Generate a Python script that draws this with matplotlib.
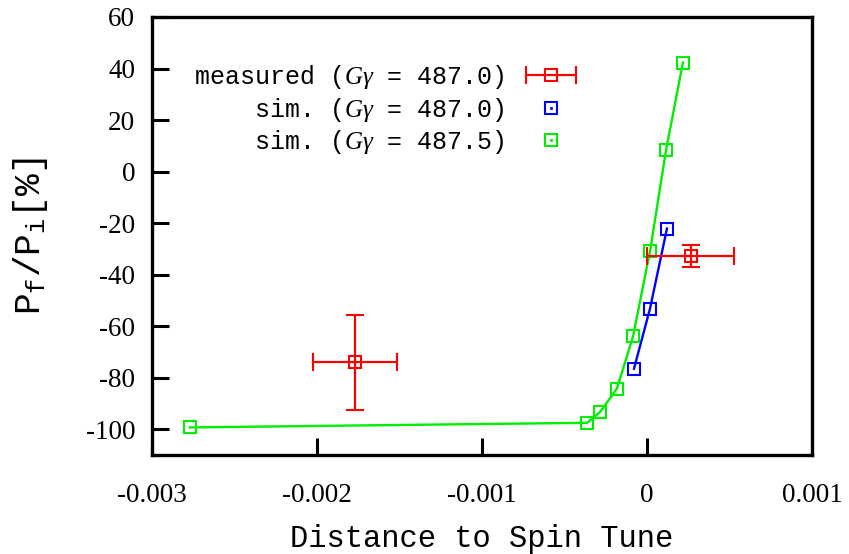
import numpy as np
import matplotlib
matplotlib.use("Agg")
import matplotlib.pyplot as plt
from matplotlib.lines import Line2D
from matplotlib.legend_handler import HandlerErrorbar, HandlerTuple

plt.rcParams["axes.unicode_minus"] = False
plt.rcParams["mathtext.fontset"] = "custom"
plt.rcParams["mathtext.rm"] = "Liberation Mono"
plt.rcParams["mathtext.tt"] = "Liberation Mono"
plt.rcParams["mathtext.it"] = "Liberation Serif:italic"

# measured polarisation ratio (G gamma = 487.0)
meas_x = [-0.00177, 0.000266]
meas_y = [-74.0, -32.6]
meas_xerr = [0.000257, 0.000263]
meas_yerr = [18.5, 4.3]

# simulation, G gamma = 487.0
sim0_x = [-0.0000787, 0.0000182, 0.000121]
sim0_y = [-76.5, -53.2, -22.1]

# simulation, G gamma = 487.5
sim5_x = [-0.00277, -0.000363, -0.000284, -0.000182, -0.0000847,
          0.0000182, 0.000115, 0.000218]
sim5_y = [-99.3, -97.5, -93.3, -84.2, -64.0, -31.0, 8.2, 42.3]

xticks = [-0.003, -0.002, -0.001, 0, 0.001]
yticks = [-100, -80, -60, -40, -20, 0, 20, 40, 60]

RED, BLUE, GREEN = "#ff0000", "#0000ff", "#00ee00"
MONO = "Liberation Mono"
SERIF = "Liberation Serif"
MS = 8.5

fig = plt.figure(figsize=(8.49, 5.54), dpi=100)
ax = fig.add_axes([152 / 849, 99 / 554, 660 / 849, 438 / 554])

ax.plot(sim5_x, sim5_y, color=GREEN, lw=1.7, zorder=2)
ax.plot(sim5_x, sim5_y, ls="none", marker="s", ms=MS, mfc="none",
        mec=GREEN, mew=1.5, zorder=3)
ax.plot(sim0_x, sim0_y, color=BLUE, lw=1.7, zorder=2)
ax.plot(sim0_x, sim0_y, ls="none", marker="s", ms=MS, mfc="none",
        mec=BLUE, mew=1.5, zorder=3)
ax.errorbar(meas_x, meas_y, xerr=meas_xerr, yerr=meas_yerr, fmt="s",
            ms=MS, mfc="none", mec=RED, mew=1.5, color=RED, ecolor=RED,
            elinewidth=1.6, capsize=6.5, capthick=1.6, zorder=4)

ax.set_xlim(-0.003, 0.001)
ax.set_ylim(-110, 60)
ax.set_xticks(xticks)
ax.set_yticks(yticks)
ax.xaxis.set_major_formatter(plt.FuncFormatter(lambda v, p: f"{v:g}"))
ax.tick_params(direction="in", length=12, width=2.2, top=False, right=False,
               labelsize=19.5)
ax.tick_params(axis="x", pad=20)
ax.tick_params(axis="y", pad=12)
for lab in ax.get_xticklabels() + ax.get_yticklabels():
    lab.set_fontfamily(SERIF)
for sp in ax.spines.values():
    sp.set_linewidth(2.4)

ax.set_xlabel("Distance to Spin Tune", fontfamily=MONO, fontsize=22,
              labelpad=12)
ax.set_ylabel(r"P$_{\mathrm{f}}$/P$_{\mathrm{i}}$[%]", fontfamily=MONO,
              fontsize=26, labelpad=26)

# legend: marker-only handles, measured shows the horizontal bar only
meas_proxy = ax.errorbar([np.nan], [np.nan], xerr=[np.nan], fmt="s", ms=MS,
                         mfc="none", mec=RED, mew=1.5, ecolor=RED,
                         elinewidth=1.6, capsize=6.5, capthick=1.6)
def sq(c):
    return (Line2D([], [], ls="none", marker="s", ms=MS, mfc="none", mec=c, mew=1.5),
            Line2D([], [], ls="none", marker="s", ms=1.8, mfc=c, mec=c, mew=0.5))
handles = [meas_proxy, sq(BLUE), sq(GREEN)]
labels = [r"measured ($\mathit{G}\gamma$ = 487.0)",
          r"sim. ($\mathit{G}\gamma$ = 487.0)",
          r"sim. ($\mathit{G}\gamma$ = 487.5)"]
leg = ax.legend(handles, labels, loc="upper right", markerfirst=False,
                frameon=False, prop={"family": MONO, "size": 18},
                handlelength=2.1, handletextpad=0.8, labelspacing=0.18,
                bbox_to_anchor=(587 / 849, (554 - 53) / 554),
                bbox_transform=fig.transFigure, borderaxespad=0,
                handler_map={meas_proxy: HandlerErrorbar(xerr_size=1.0),
                             tuple: HandlerTuple(ndivide=1)})

fig.savefig("out.png", dpi=100)
